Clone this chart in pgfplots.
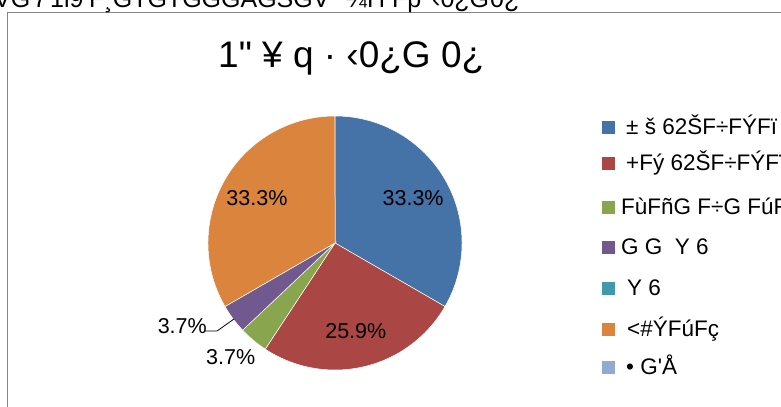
\documentclass[border=0pt]{standalone}
\usepackage{fontspec}
\setmainfont{Liberation Sans}
\usepackage{pgfplots}
\usepackage{pgfplotstable}
\pgfplotsset{compat=1.18}

\definecolor{c1}{HTML}{4572A7}
\definecolor{c2}{HTML}{AA4643}
\definecolor{c3}{HTML}{89A54E}
\definecolor{c4}{HTML}{71588F}
\definecolor{c5}{HTML}{4198AF}
\definecolor{c6}{HTML}{DB843D}
\definecolor{c7}{HTML}{93A9CF}
\definecolor{framegray}{HTML}{868686}

% slice counts, clockwise from 12 o'clock
\pgfplotstableread{
slice count
1 9
2 7
3 1
4 1
5 0
6 9
7 0
}\piedata

\newcommand\lblfont{\fontsize{21.5bp}{25bp}\selectfont}
\newcommand\legfont{\fontsize{22.5bp}{26bp}\selectfont}
\newcommand\pctof[1]{\pgfmathprintnumber[fixed,precision=1,fixed zerofill,
  assume math mode=true]{\csname pct#1\endcsname}\%}

\begin{document}
\begin{tikzpicture}[x=1bp,y=1bp]
% total, then start/end/mid angle and percentage of every slice
\def\total{0}
\pgfplotstableforeachcolumnelement{count}\of\piedata\as\cell{%
  \pgfmathsetmacro\total{\total+\cell}\xdef\total{\total}}
\xdef\curangle{90}
\foreach \i in {1,...,7}{
  \pgfmathtruncatemacro\row{\i-1}
  \pgfplotstablegetelem{\row}{count}\of\piedata
  \let\n=\pgfplotsretval
  \pgfmathsetmacro\sweep{\n/\total*360}
  \pgfmathsetmacro\endangle{\curangle-\sweep}
  \pgfmathsetmacro\midangle{\curangle-\sweep/2}
  \pgfmathsetmacro\pct{\n/\total*100}
  \expandafter\xdef\csname n\i\endcsname{\n}
  \expandafter\xdef\csname sa\i\endcsname{\curangle}
  \expandafter\xdef\csname ea\i\endcsname{\endangle}
  \expandafter\xdef\csname ma\i\endcsname{\midangle}
  \expandafter\xdef\csname pct\i\endcsname{\pct}
  \xdef\curangle{\endangle}
}

\useasboundingbox (0,0) rectangle (781,406);
\clip (0,0) rectangle (781,406);

% chart frame (runs off the page at right and bottom)
\draw[framegray, line width=1.5bp] (7.5,-5) -- (7.5,393.5) -- (790,393.5);

% cut-off heading above the chart
\foreach \xx/\word in {-6/VG, 33/7, 50/1i9, 89/F¸GTGTGGGAGSGV, 346/¼H, 392/Fp,
    432/‹0¿G, 490/0¿}{
  \node[anchor=base west, inner sep=0, font=\fontsize{25bp}{29bp}\selectfont]
    at (\xx,398) {\word};
}

% title
\node[anchor=base west, inner sep=0, font=\fontsize{37bp}{41bp}\selectfont]
  at (218,339) {1\textquotedbl{} ¥ q · ‹0¿G 0¿};

\begin{axis}[
  at={(335bp,163bp)}, anchor=center,
  x=127bp, y=127bp,
  xmin=-1.3, xmax=1.3, ymin=-1.3, ymax=1.3,
  hide axis, clip=false,
]
\pgfplotsinvokeforeach{1,...,7}{
  \ifdim\csname n#1\endcsname pt>0pt
    \fill[c#1, draw=white, line width=0.5bp]
      (axis cs:0,0) -- (axis cs:{cos(\csname sa#1\endcsname)},{sin(\csname sa#1\endcsname)})
      arc[start angle=\csname sa#1\endcsname, end angle=\csname ea#1\endcsname, radius=127bp]
      -- cycle;
  \fi
  \ifdim\csname n#1\endcsname pt>4pt
    \node[font=\lblfont, inner sep=0]
      at (axis cs:{0.71*cos(\csname ma#1\endcsname)},{0.71*sin(\csname ma#1\endcsname)})
      {\pctof{#1}};
  \fi
}
% labels of the two thin slices
\draw[black, line width=0.8bp] (axis cs:-1.024,-0.693) -- (axis cs:-0.929,-0.693)
  -- (axis cs:-0.795,-0.598);
\node[font=\lblfont, inner sep=0, anchor=base east] at (axis cs:-1.008,-0.709) {\pctof{4}};
\node[font=\lblfont, inner sep=0, anchor=base west] at (axis cs:-1.016,-0.953) {\pctof{3}};
\end{axis}

% legend
\foreach \col/\yc/\xt/\txt in {
  c1/127/626/{± š 62ŠF÷FÝFï},
  c2/163/626/{+Fý 62ŠF÷FÝFï},
  c3/207/621/{FùFñG F÷G FúFç},
  c4/247/621/{G G\ \ Y 6},
  c5/288/627/{Y 6},
  c6/329/627/{<\#ÝFúFç},
  c7/367/626/{• G\textquotesingle Å}}{
  \fill[\col] (602,406-\yc-6.5) rectangle (615,406-\yc+6.5);
  \node[anchor=base west, inner sep=0, font=\legfont] at (\xt,406-\yc-7.5) {\txt};
}
\end{tikzpicture}
\end{document}
